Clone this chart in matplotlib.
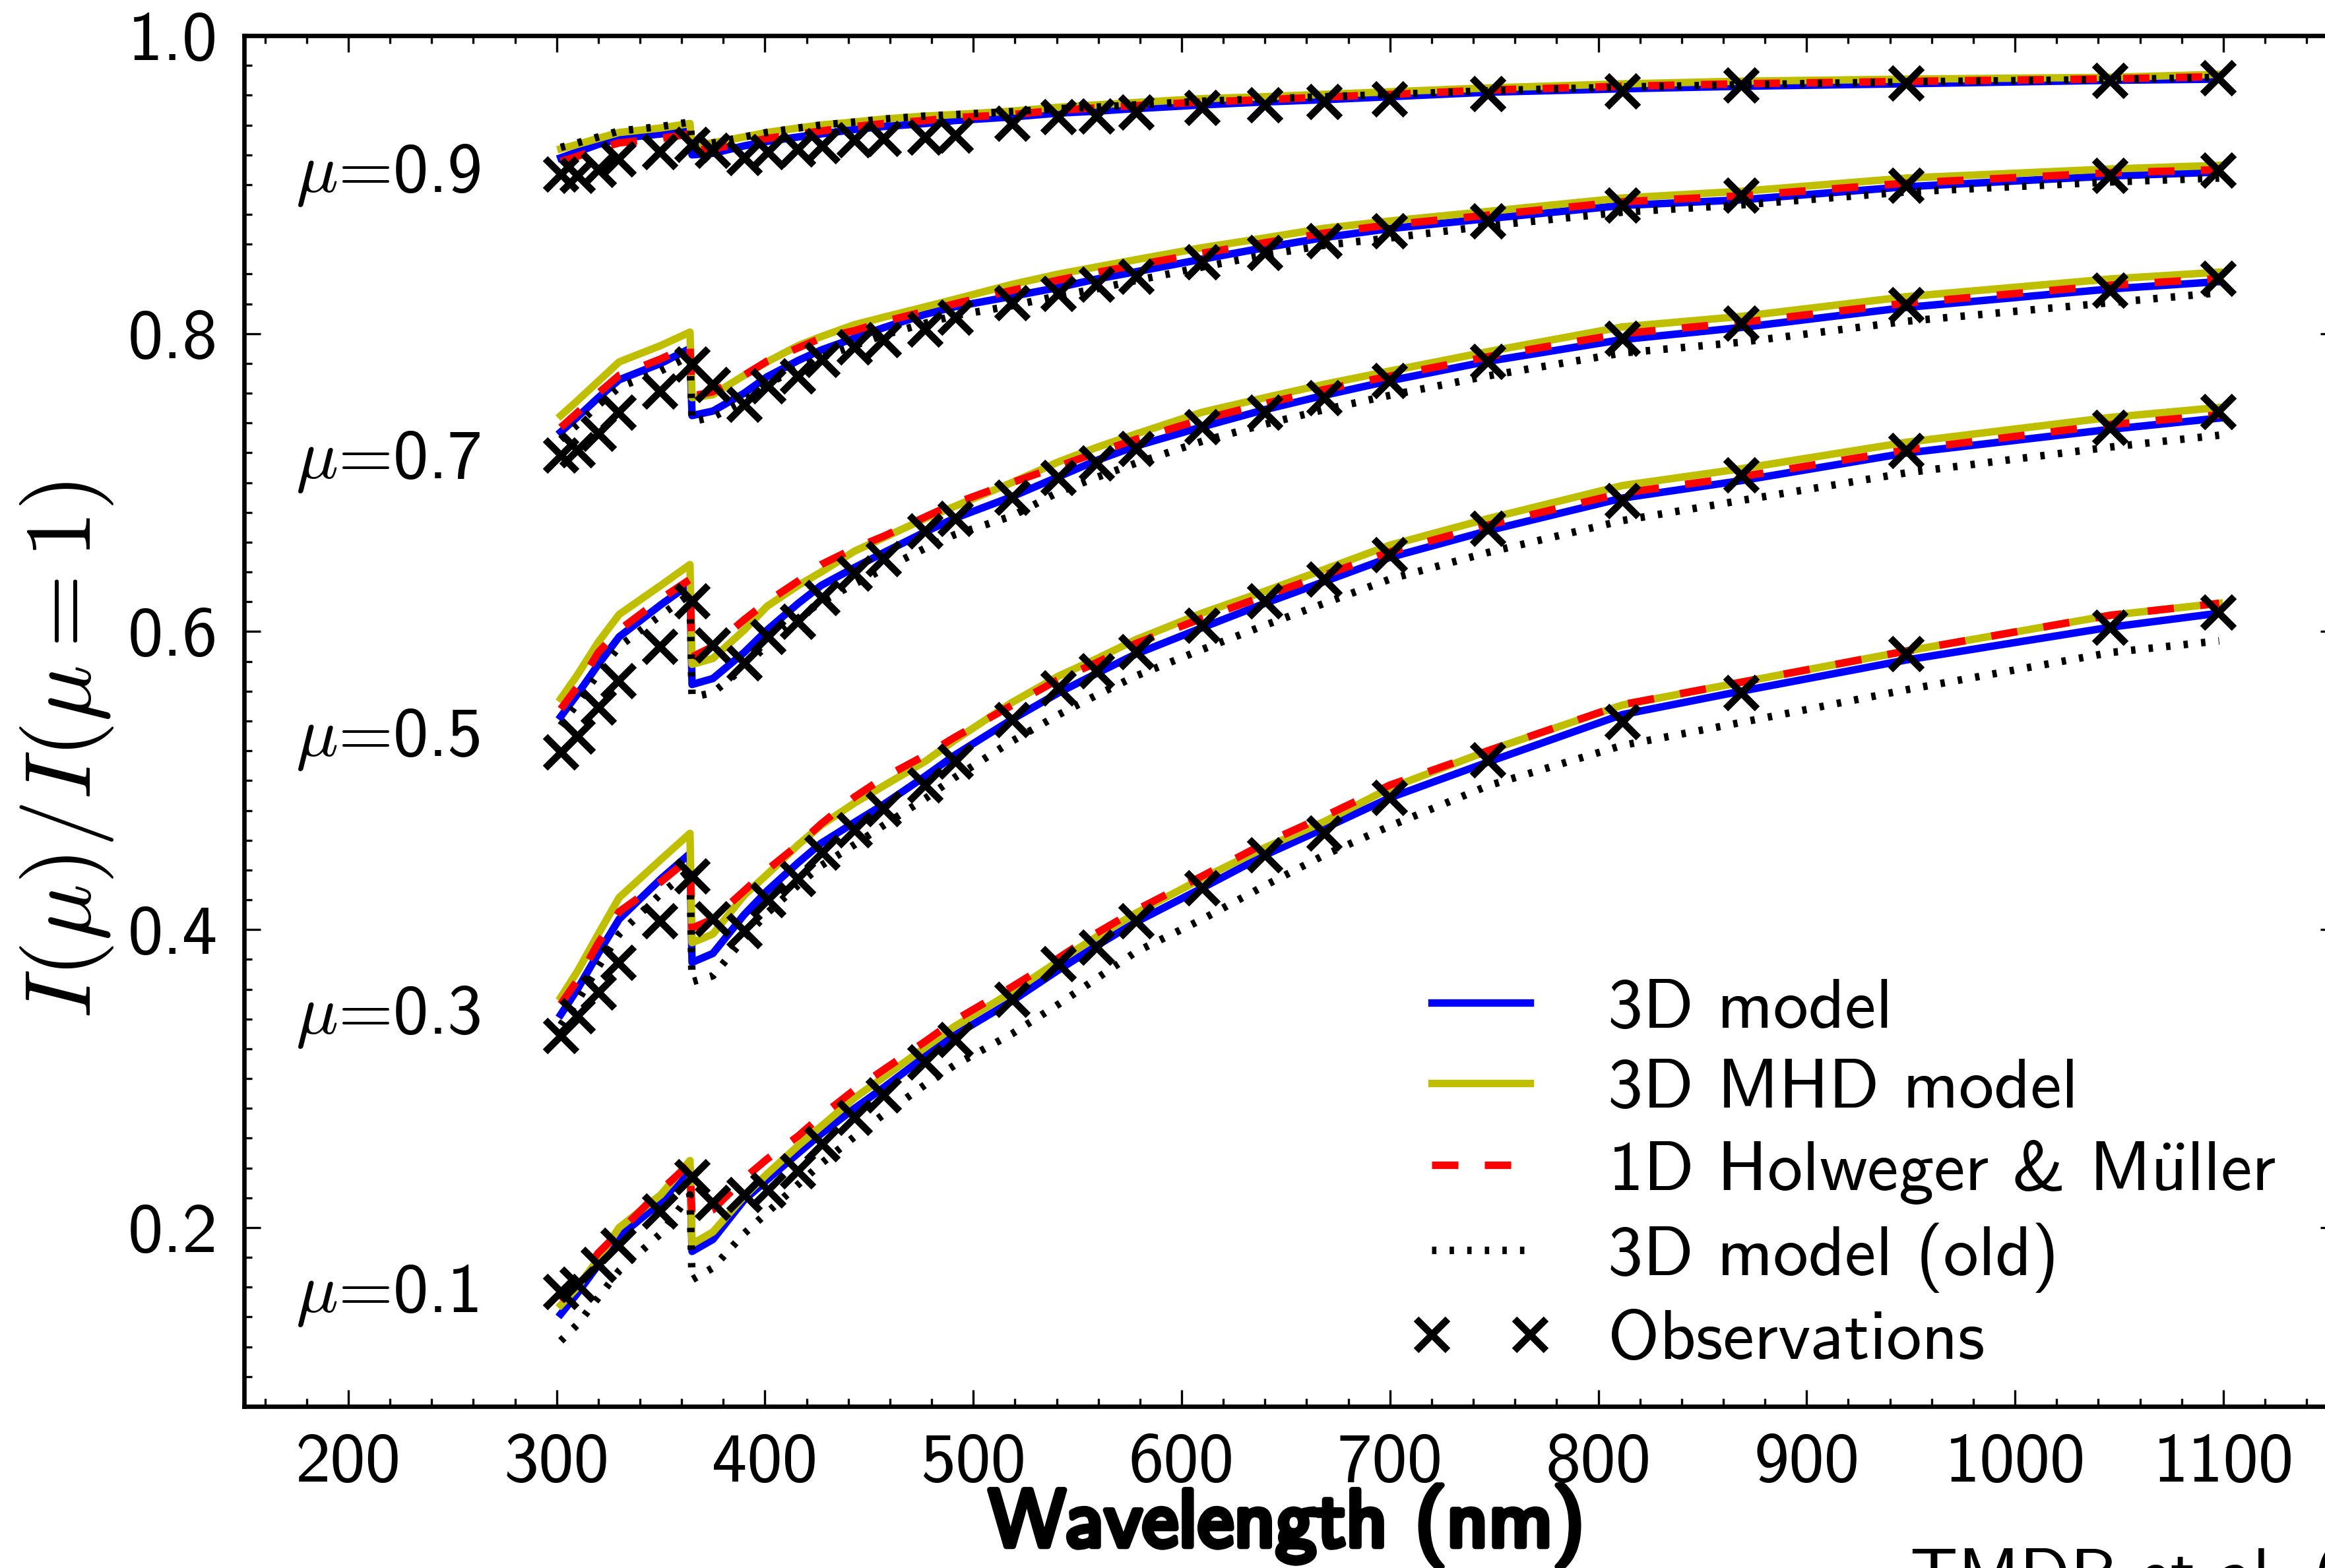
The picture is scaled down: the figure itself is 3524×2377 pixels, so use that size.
import matplotlib
matplotlib.use('Agg')
import matplotlib.pyplot as plt
from matplotlib.ticker import MultipleLocator, FormatStrFormatter
import matplotlib.patheffects as pe

plt.rcParams['font.family'] = ['cmss10', 'DejaVu Sans']
plt.rcParams['mathtext.fontset'] = 'cm'
plt.rcParams['axes.unicode_minus'] = False

# ---------------- data ----------------
wl_model = [302, 310, 320, 330, 350, 364, 365, 375, 390, 401, 416, 427, 443, 457, 477, 491,
            518.5, 541, 559, 578, 610, 640, 668.5, 700, 747, 811.5, 868.5, 948, 1046, 1098]
wl_obs = [302, 310, 320, 329.5, 349.6, 365, 374.8, 390, 401.3, 415.8, 427.5, 443, 456.8, 476.8,
          491.5, 518.5, 540.8, 559, 578.2, 609.8, 640, 668.5, 699.8, 747, 811.5, 868.6, 947.8,
          1045.5, 1097.5]
mu_values = [0.9, 0.7, 0.5, 0.3, 0.1]
mu_label_y = [0.895, 0.703, 0.5165, 0.330, 0.1435]

# mu = 0.9
m3d_09 = [0.918, 0.922, 0.927, 0.931, 0.934, 0.936, 0.920, 0.921, 0.926, 0.929, 0.932, 0.934, 0.937, 0.939, 0.941, 0.943,
          0.9454, 0.948, 0.9493, 0.951, 0.9535, 0.9555, 0.957, 0.959, 0.962, 0.9643, 0.966, 0.9677, 0.970, 0.9708]
mhd_09 = [0.924, 0.927, 0.931, 0.935, 0.938, 0.941, 0.926, 0.928, 0.932, 0.935, 0.938, 0.940, 0.942, 0.944, 0.946, 0.947,
          0.9493, 0.9519, 0.9535, 0.9551, 0.9577, 0.959, 0.9606, 0.9623, 0.9649, 0.9676, 0.9694, 0.9708, 0.972, 0.974]
hm_09 = [0.9155, 0.919, 0.924, 0.928, 0.931, 0.934, 0.923, 0.924, 0.928, 0.931, 0.934, 0.936, 0.939, 0.941, 0.943, 0.945,
         0.947, 0.950, 0.9515, 0.953, 0.9555, 0.957, 0.9588, 0.9605, 0.9635, 0.966, 0.9677, 0.9693, 0.971, 0.9725]
old_09 = [0.925, 0.928, 0.932, 0.936, 0.939, 0.942, 0.926, 0.928, 0.932, 0.935, 0.938, 0.940, 0.942, 0.944, 0.946, 0.947,
          0.949, 0.951, 0.952, 0.9535, 0.956, 0.9575, 0.959, 0.9605, 0.963, 0.9655, 0.967, 0.969, 0.9705, 0.972]
obs_09 = [0.907, 0.906, 0.910, 0.917, 0.922, 0.927, 0.923, 0.918, 0.922, 0.924, 0.926, 0.930, 0.931, 0.932, 0.933,
          0.941, 0.9454, 0.946, 0.9486, 0.9519, 0.9535, 0.9558, 0.9577, 0.961, 0.963, 0.967, 0.968, 0.970, 0.9717]

# mu = 0.7
m3d_07 = [0.734, 0.744, 0.757, 0.769, 0.780, 0.790, 0.745, 0.748, 0.760, 0.771, 0.782, 0.789, 0.797, 0.804, 0.813, 0.818,
          0.825, 0.831, 0.8366, 0.8415, 0.850, 0.8577, 0.8645, 0.8705, 0.8772, 0.886, 0.8898, 0.8986, 0.9058, 0.9084]
mhd_07 = [0.745, 0.755, 0.768, 0.781, 0.792, 0.801, 0.757, 0.759, 0.772, 0.781, 0.792, 0.798, 0.806, 0.811, 0.818, 0.823,
          0.833, 0.840, 0.8447, 0.8496, 0.8577, 0.8642, 0.8707, 0.8756, 0.882, 0.891, 0.8955, 0.9044, 0.9105, 0.9129]
hm_07 = [0.737, 0.747, 0.760, 0.772, 0.783, 0.792, 0.758, 0.761, 0.772, 0.7815, 0.7905, 0.797, 0.802, 0.808, 0.815, 0.820,
         0.829, 0.836, 0.841, 0.846, 0.854, 0.861, 0.8675, 0.873, 0.8795, 0.8885, 0.8925, 0.901, 0.908, 0.910]
old_07 = [0.729, 0.739, 0.752, 0.764, 0.775, 0.785, 0.741, 0.744, 0.755, 0.766, 0.777, 0.784, 0.792, 0.799, 0.807, 0.812,
          0.8187, 0.8254, 0.830, 0.8356, 0.8447, 0.8528, 0.8593, 0.8642, 0.8723, 0.8815, 0.8864, 0.8951, 0.9018, 0.9044]
obs_07 = [0.7186, 0.722, 0.733, 0.747, 0.7614, 0.7795, 0.7656, 0.7527, 0.765, 0.7715, 0.7827, 0.791, 0.796, 0.8032, 0.811,
          0.8205, 0.8268, 0.8333, 0.8382, 0.848, 0.8544, 0.8625, 0.869, 0.8756, 0.886, 0.893, 0.8996, 0.906, 0.9097]

# mu = 0.5
m3d_05 = [0.543, 0.558, 0.578, 0.5965, 0.618, 0.632, 0.5645, 0.5685, 0.586, 0.601, 0.619, 0.631, 0.643, 0.653, 0.667, 0.676,
          0.6905, 0.704, 0.7148, 0.7245, 0.7375, 0.749, 0.7586, 0.7684, 0.7814, 0.796, 0.8041, 0.8176, 0.830, 0.8349]
mhd_05 = [0.555, 0.571, 0.593, 0.6115, 0.631, 0.645, 0.578, 0.582, 0.601, 0.617, 0.631, 0.640, 0.654, 0.663, 0.676, 0.684,
          0.700, 0.714, 0.7235, 0.7326, 0.7473, 0.757, 0.766, 0.7749, 0.7879, 0.8045, 0.8115, 0.8248, 0.8367, 0.8412]
hm_05 = [0.548, 0.563, 0.586, 0.601, 0.622, 0.635, 0.583, 0.590, 0.608, 0.620, 0.634, 0.645, 0.656, 0.664, 0.677, 0.686,
         0.700, 0.711, 0.720, 0.729, 0.7425, 0.753, 0.7625, 0.7715, 0.7845, 0.800, 0.8075, 0.8205, 0.8325, 0.837]
old_05 = [0.537, 0.552, 0.572, 0.590, 0.611, 0.625, 0.556, 0.559, 0.576, 0.591, 0.609, 0.620, 0.632, 0.642, 0.656, 0.665,
          0.6775, 0.6937, 0.7034, 0.713, 0.7278, 0.7392, 0.749, 0.7586, 0.7716, 0.787, 0.7942, 0.8083, 0.8208, 0.8274]
obs_05 = [0.519, 0.530, 0.5495, 0.567, 0.590, 0.6206, 0.591, 0.579, 0.5965, 0.607, 0.623, 0.639, 0.649, 0.6676, 0.6757,
          0.690, 0.7034, 0.7132, 0.7229, 0.7375, 0.7473, 0.757, 0.7684, 0.7814, 0.797, 0.807, 0.8194, 0.829, 0.8372]

# mu = 0.3
m3d_03 = [0.343, 0.360, 0.384, 0.407, 0.434, 0.451, 0.378, 0.384, 0.410, 0.426, 0.445, 0.458, 0.472, 0.484, 0.503, 0.517,
          0.541, 0.559, 0.5718, 0.5849, 0.6027, 0.619, 0.6336, 0.6498, 0.6677, 0.6896, 0.7013, 0.7199, 0.7358, 0.7433]
mhd_03 = [0.3545, 0.372, 0.397, 0.4215, 0.447, 0.4646, 0.3912, 0.397, 0.423, 0.437, 0.457, 0.470, 0.485, 0.4965, 0.513, 0.527,
          0.5524, 0.5702, 0.5816, 0.5946, 0.6125, 0.6271, 0.6417, 0.658, 0.6758, 0.698, 0.7093, 0.7271, 0.7438, 0.7504]
hm_03 = [0.350, 0.366, 0.391, 0.412, 0.432, 0.448, 0.401, 0.407, 0.426, 0.440, 0.457, 0.471, 0.489, 0.502, 0.517, 0.529,
         0.5505, 0.568, 0.579, 0.592, 0.609, 0.624, 0.638, 0.6535, 0.6715, 0.693, 0.704, 0.722, 0.739, 0.7455]
old_03 = [0.336, 0.352, 0.375, 0.397, 0.424, 0.440, 0.365, 0.369, 0.394, 0.411, 0.430, 0.443, 0.457, 0.470, 0.488, 0.502,
          0.5264, 0.5443, 0.5572, 0.5702, 0.5881, 0.6043, 0.619, 0.6352, 0.6531, 0.6745, 0.688, 0.7066, 0.7239, 0.7318]
obs_03 = [0.329, 0.342, 0.358, 0.378, 0.406, 0.436, 0.407, 0.399, 0.420, 0.434, 0.452, 0.467, 0.481, 0.497, 0.513,
          0.541, 0.5621, 0.5735, 0.5864, 0.6043, 0.6206, 0.6352, 0.6514, 0.6693, 0.688, 0.705, 0.7217, 0.737, 0.7478]

# mu = 0.1
m3d_01 = [0.142, 0.156, 0.175, 0.194, 0.217, 0.240, 0.184, 0.192, 0.2185, 0.232, 0.250, 0.263, 0.280, 0.294, 0.315, 0.329,
          0.352, 0.373, 0.389, 0.405, 0.428, 0.450, 0.468, 0.4885, 0.5124, 0.5443, 0.560, 0.581, 0.603, 0.6124]
mhd_01 = [0.148, 0.160, 0.179, 0.200, 0.222, 0.245, 0.189, 0.197, 0.221, 0.236, 0.255, 0.268, 0.287, 0.301, 0.321, 0.335,
          0.358, 0.379, 0.395, 0.411, 0.4345, 0.455, 0.4725, 0.495, 0.520, 0.5507, 0.566, 0.587, 0.611, 0.619]
hm_01 = [0.151, 0.164, 0.183, 0.197, 0.225, 0.243, 0.207, 0.212, 0.233, 0.246, 0.2615, 0.275, 0.2925, 0.306, 0.325, 0.339,
         0.3615, 0.381, 0.3975, 0.413, 0.436, 0.458, 0.476, 0.497, 0.520, 0.551, 0.566, 0.587, 0.611, 0.619]
old_01 = [0.124, 0.135, 0.153, 0.171, 0.196, 0.222, 0.165, 0.173, 0.196, 0.210, 0.229, 0.243, 0.261, 0.276, 0.296, 0.309,
          0.330, 0.350, 0.367, 0.385, 0.407, 0.4296, 0.450, 0.4695, 0.4965, 0.5236, 0.539, 0.561, 0.586, 0.5938]
obs_01 = [0.157, 0.162, 0.175, 0.188, 0.211, 0.234, 0.217, 0.222, 0.225, 0.238, 0.256, 0.274, 0.289, 0.311, 0.326,
          0.353, 0.377, 0.388, 0.4057, 0.428, 0.450, 0.4646, 0.4885, 0.514, 0.5395, 0.559, 0.585, 0.603, 0.613]

m3d_all = [m3d_09, m3d_07, m3d_05, m3d_03, m3d_01]
mhd_all = [mhd_09, mhd_07, mhd_05, mhd_03, mhd_01]
hm_all = [hm_09, hm_07, hm_05, hm_03, hm_01]
old_all = [old_09, old_07, old_05, old_03, old_01]
obs_all = [obs_09, obs_07, obs_05, obs_03, obs_01]

legend_labels = ['3D model', '3D MHD model', r'1D Holweger & M$\ddot{\mathsf{u}}$ller',
                 '3D model (old)', 'Observations']

# ---------------- figure ----------------
W, H, DPI = 3524, 2377, 480
fig = plt.figure(figsize=(W / DPI, H / DPI), dpi=DPI)
fig.patch.set_facecolor('white')
Lp, Rp, Tp, Bp = 370, 3542, 54, 2132
ax = fig.add_axes([Lp / W, 1 - Bp / H, (Rp - Lp) / W, (Bp - Tp) / H])

lw = 1.7
yel = (0.75, 0.75, 0.0)
h1 = h2 = h3 = h4 = h5 = None
for i in range(5):
    h1, = ax.plot(wl_model, m3d_all[i], color='b', lw=lw, solid_joinstyle='round')
    h2, = ax.plot(wl_model, mhd_all[i], color=yel, lw=lw, solid_joinstyle='round')
    h3, = ax.plot(wl_model, hm_all[i], color='r', lw=lw, ls=(0, (6 / lw, 6 / lw)))
    h4, = ax.plot(wl_model, old_all[i], color='k', lw=lw, ls=(0, (1 / lw, 3 / lw)))
    h5, = ax.plot(wl_obs, obs_all[i], ls='none', marker='x', ms=7.2, mew=1.6, color='k')

for mu, yb in zip(mu_values, mu_label_y):
    ax.text(174.7, yb, r'$\mu$=%.1f' % mu, fontsize=16, ha='left', va='baseline')

ax.set_xlim(150, 1154.5)
ax.set_ylim(0.08, 1.0)
ax.xaxis.set_major_locator(MultipleLocator(100))
ax.xaxis.set_minor_locator(MultipleLocator(20))
ax.yaxis.set_major_locator(MultipleLocator(0.2))
ax.yaxis.set_minor_locator(MultipleLocator(0.02))
ax.yaxis.set_major_formatter(FormatStrFormatter('%.1f'))
ax.tick_params(which='both', direction='in', top=True, right=True, labelsize=16)
ax.tick_params(which='major', length=3.7, width=0.5, pad=6)
ax.tick_params(which='minor', length=1.8, width=0.5)
for s in ax.spines.values():
    s.set_linewidth(1.0)

leg = ax.legend([h1, h2, h3, h4, h5], legend_labels, loc='lower left',
                bbox_to_anchor=(2138 / W, 296 / H), bbox_transform=fig.transFigure,
                frameon=False, borderpad=0, borderaxespad=0, handlelength=2.0,
                handletextpad=0.8, labelspacing=0.24, numpoints=2, fontsize=16)

fig.text(1950 / W, 1 - 2344 / H, 'Wavelength (nm)', ha='center', va='baseline', fontsize=18.5,
         path_effects=[pe.withStroke(linewidth=1.3, foreground='k')])
fig.text(102 / W, 1 - 1137 / H, r'$I(\mu)/I(\mu=1)$', rotation=90, ha='center', va='center',
         fontsize=21.5)
fig.text(2895 / W, 1 - 2421 / H, 'TMDR et al. (2013)', ha='left', va='baseline', fontsize=16)

fig.savefig('out.png', dpi=DPI, facecolor='white')
